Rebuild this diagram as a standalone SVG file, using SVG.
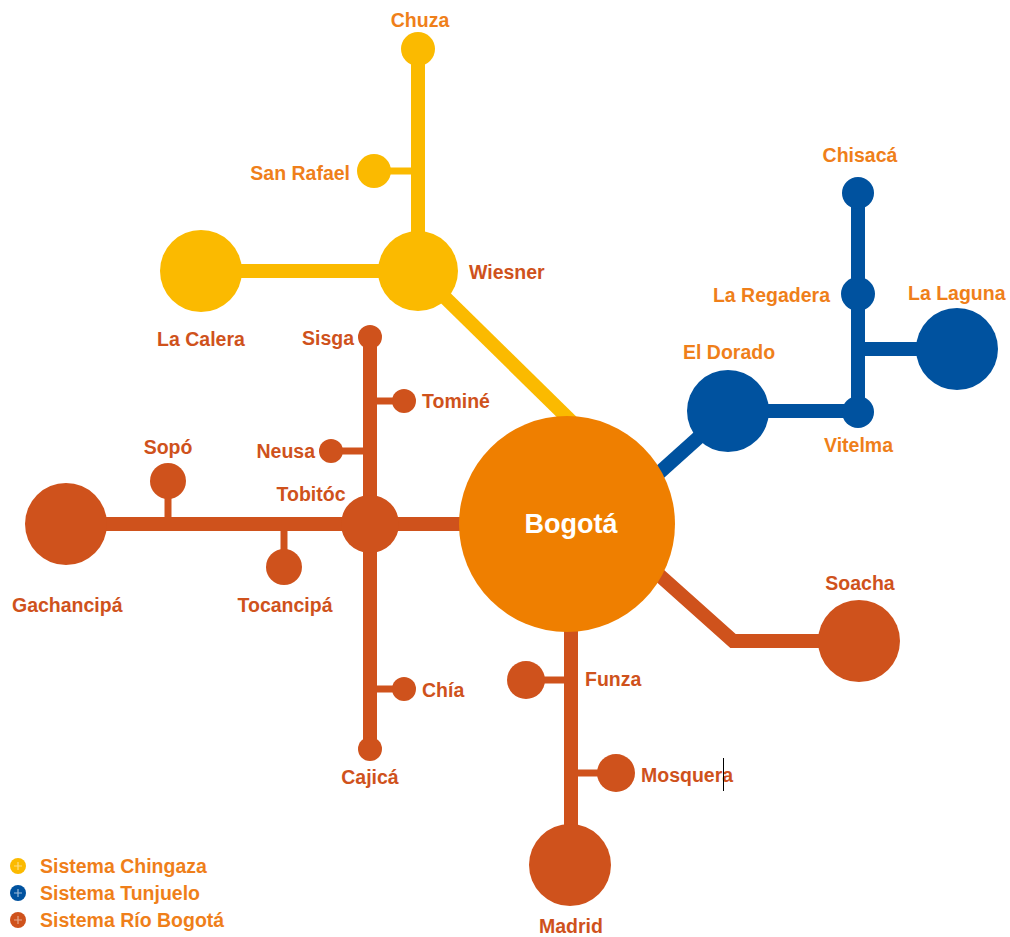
<svg xmlns="http://www.w3.org/2000/svg" width="1010" height="937" viewBox="0 0 1010 937">
<style>
text{font-family:"Liberation Sans",Arial,sans-serif;font-weight:bold;font-size:19.5px}
.lo{fill:#EF7F1A}
.lr{fill:#CF521C}
.y{fill:#FBBA00}
.b{fill:#00529F}
.r{fill:#CF521C}
.ly{stroke:#FBBA00;fill:none}
.lb{stroke:#00529F;fill:none}
.lrr{stroke:#CF521C;fill:none}
.w14{stroke-width:14}
.w7{stroke-width:7}
</style>
<rect width="1010" height="937" fill="#fff"/>
<g id="connectors">
<line class="ly w14" x1="418" y1="49" x2="418" y2="271"/>
<line class="ly w7" x1="374" y1="171" x2="418" y2="171"/>
<line class="ly w14" x1="201" y1="271" x2="418" y2="271"/>
<line class="ly w14" x1="418" y1="271" x2="580" y2="430"/>
<line class="lb w14" x1="858" y1="193" x2="858" y2="412"/>
<line class="lb w14" x1="858" y1="349" x2="957" y2="349"/>
<line class="lb w14" x1="728" y1="411" x2="858" y2="411"/>
<line class="lb w14" x1="728" y1="411" x2="640" y2="490"/>
<line class="lrr w14" x1="66" y1="524" x2="567" y2="524"/>
<line class="lrr w7" x1="168" y1="481" x2="168" y2="524"/>
<line class="lrr w7" x1="284" y1="524" x2="284" y2="567"/>
<line class="lrr w14" x1="370" y1="337" x2="370" y2="749"/>
<line class="lrr w7" x1="370" y1="401" x2="404" y2="401"/>
<line class="lrr w7" x1="331" y1="451" x2="370" y2="451"/>
<line class="lrr w7" x1="370" y1="689" x2="404" y2="689"/>
<line class="lrr w14" x1="571" y1="524" x2="571" y2="865"/>
<line class="lrr w7" x1="526" y1="680" x2="571" y2="680"/>
<line class="lrr w7" x1="571" y1="773" x2="616" y2="773"/>
<polyline class="lrr w14" points="620,540 733,641 859,641"/>
</g>
<g id="chuza"><circle class="y" cx="418" cy="49" r="17"/><text class="lo" x="420" y="27" text-anchor="middle">Chuza</text></g>
<g id="sanrafael"><circle class="y" cx="374" cy="171" r="17"/><text class="lo" x="350" y="180" text-anchor="end">San Rafael</text></g>
<g id="wiesner"><circle class="y" cx="418" cy="271" r="40"/><text class="lr" x="469" y="279">Wiesner</text></g>
<g id="lacalera"><circle class="y" cx="201" cy="271" r="41"/><text class="lr" x="201" y="346" text-anchor="middle">La Calera</text></g>
<g id="chisaca"><circle class="b" cx="858" cy="193" r="16"/><text class="lo" x="860" y="162" text-anchor="middle">Chisacá</text></g>
<g id="laregadera"><circle class="b" cx="858" cy="294" r="17"/><text class="lo" x="830" y="302" text-anchor="end">La Regadera</text></g>
<g id="lalaguna"><circle class="b" cx="957" cy="349" r="41"/><text class="lo" x="908" y="300">La Laguna</text></g>
<g id="vitelma"><circle class="b" cx="858" cy="412" r="16"/><text class="lo" x="824" y="452">Vitelma</text></g>
<g id="eldorado"><circle class="b" cx="728" cy="411" r="41"/><text class="lo" x="683" y="359">El Dorado</text></g>
<g id="bogota"><circle fill="#EF7F00" cx="567" cy="524" r="108"/><text x="571" y="533" text-anchor="middle" fill="#fff" style="font-size:27px">Bogotá</text></g>
<g id="gachancipa"><circle class="r" cx="66" cy="524" r="41"/><text class="lr" x="12" y="612">Gachancipá</text></g>
<g id="sopo"><circle class="r" cx="168" cy="481" r="18"/><text class="lr" x="168" y="454" text-anchor="middle">Sopó</text></g>
<g id="tocancipa"><circle class="r" cx="284" cy="567" r="18"/><text class="lr" x="285" y="612" text-anchor="middle">Tocancipá</text></g>
<g id="tobitoc"><circle class="r" cx="370" cy="524" r="29"/><text class="lr" x="311" y="501" text-anchor="middle">Tobitóc</text></g>
<g id="sisga"><circle class="r" cx="370" cy="337" r="12"/><text class="lr" x="354" y="345" text-anchor="end">Sisga</text></g>
<g id="tomine"><circle class="r" cx="404" cy="401" r="12"/><text class="lr" x="422" y="408">Tominé</text></g>
<g id="neusa"><circle class="r" cx="331" cy="451" r="12"/><text class="lr" x="315" y="458" text-anchor="end">Neusa</text></g>
<g id="chia"><circle class="r" cx="404" cy="689" r="12"/><text class="lr" x="422" y="697">Chía</text></g>
<g id="cajica"><circle class="r" cx="370" cy="749" r="12"/><text class="lr" x="370" y="784" text-anchor="middle">Cajicá</text></g>
<g id="funza"><circle class="r" cx="526" cy="680" r="19"/><text class="lr" x="585" y="686">Funza</text></g>
<g id="mosquera"><circle class="r" cx="616" cy="773" r="19"/><text class="lr" x="641" y="782">Mosquera</text></g>
<g id="madrid"><circle class="r" cx="570" cy="865" r="41"/><text class="lr" x="571" y="933" text-anchor="middle">Madrid</text></g>
<g id="soacha"><circle class="r" cx="859" cy="641" r="41"/><text class="lr" x="860" y="590" text-anchor="middle">Soacha</text></g>
<line x1="723.5" y1="758" x2="723.5" y2="791" stroke="#000" stroke-width="1"/>
<g id="legend">
<circle class="y" cx="18" cy="866" r="8"/><path d="M14 866h8M18 862v8" stroke="#fff" stroke-opacity="0.5" stroke-width="1.2"/>
<text class="lo" x="40" y="873">Sistema Chingaza</text>
<circle class="b" cx="18" cy="893" r="8"/><path d="M14 893h8M18 889v8" stroke="#fff" stroke-opacity="0.6" stroke-width="1.2"/>
<text class="lo" x="40" y="900">Sistema Tunjuelo</text>
<circle class="r" cx="18" cy="920" r="8"/><path d="M14 920h8M18 916v8" stroke="#fff" stroke-opacity="0.5" stroke-width="1.2"/>
<text class="lo" x="40" y="927">Sistema Río Bogotá</text>
</g>
</svg>
